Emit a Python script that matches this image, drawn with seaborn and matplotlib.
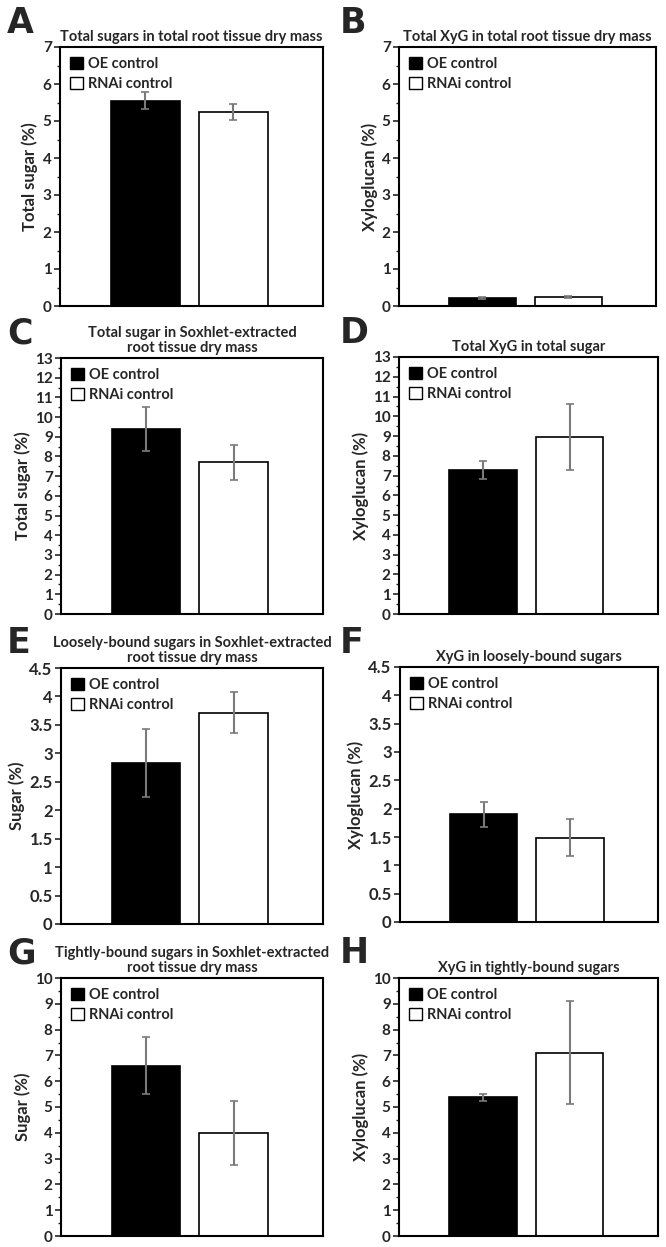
import numpy as np
import pandas as pd
import matplotlib
matplotlib.use("Agg")
import matplotlib.pyplot as plt
from matplotlib.patches import Patch
from matplotlib.ticker import MultipleLocator
import seaborn as sns

sns.set_style("ticks")
plt.rcParams['font.family'] = ['Lato', 'DejaVu Sans']

groups = ["OE control", "RNAi control"]

letters = ["A", "B", "C", "D", "E", "F", "G", "H"]
titles = [
    "Total sugars in total root tissue dry mass",
    "Total XyG in total root tissue dry mass",
    "Total sugar in Soxhlet-extracted\nroot tissue dry mass",
    "Total XyG in total sugar",
    "Loosely-bound sugars in Soxhlet-extracted\nroot tissue dry mass",
    "XyG in loosely-bound sugars",
    "Tightly-bound sugars in Soxhlet-extracted\nroot tissue dry mass",
    "XyG in tightly-bound sugars",
]
ylabels = ["Total sugar (%)", "Xyloglucan (%)", "Total sugar (%)", "Xyloglucan (%)",
           "Sugar (%)", "Xyloglucan (%)", "Sugar (%)", "Xyloglucan (%)"]

# mean values (OE control, RNAi control)
means_a = [5.55, 5.25]
means_b = [0.22, 0.25]
means_c = [9.4, 7.7]
means_d = [7.3, 8.95]
means_e = [2.83, 3.71]
means_f = [1.9, 1.49]
means_g = [6.6, 4.0]
means_h = [5.37, 7.1]

# error bar half-lengths
err_a = [0.23, 0.22]
err_b = [0.02, 0.03]
err_c = [1.1, 0.9]
err_d = [0.45, 1.68]
err_e = [0.6, 0.36]
err_f = [0.22, 0.33]
err_g = [1.11, 1.23]
err_h = [0.12, 2.0]

y_max = [7, 7, 13, 13, 4.5, 4.5, 10, 10]
y_step = [1, 1, 1, 1, 0.5, 0.5, 1, 1]

means = [means_a, means_b, means_c, means_d, means_e, means_f, means_g, means_h]
errs = [err_a, err_b, err_c, err_d, err_e, err_f, err_g, err_h]

# axes boxes in pixels: left, top, right, bottom
boxes = [(60, 47, 323, 306), (399, 47, 656, 306),
         (61, 358, 323, 614), (399, 357, 658, 614),
         (61, 668, 323, 924), (400, 667, 658, 922),
         (61, 978, 323, 1236), (399, 978, 658, 1236)]

W, H = 666, 1247
fig = plt.figure(figsize=(W / 100, H / 100), dpi=100)

for i in range(8):
    l, t, r, b = boxes[i]
    ax = fig.add_axes([l / W, 1 - b / H, (r - l) / W, (b - t) / H])
    df = pd.DataFrame({"group": groups, "value": means[i]})
    sns.barplot(data=df, x="group", y="value", hue="group", palette=["black", "white"],
                edgecolor="black", linewidth=1.2, width=0.78, errorbar=None,
                legend=False, ax=ax)
    ax.errorbar([0, 1], means[i], yerr=errs[i], fmt="none", ecolor="#7a7a7a",
                elinewidth=1.5, capsize=3, capthick=1.2, zorder=5)
    ax.set_xlim(-0.97, 2.02)
    ax.set_ylim(0, y_max[i])
    ax.yaxis.set_major_locator(MultipleLocator(y_step[i]))
    if y_step[i] == 1:
        ax.yaxis.set_minor_locator(MultipleLocator(0.5))
    ax.tick_params(axis="y", which="major", length=4, width=1.2,
                   labelsize=12 if y_step[i] < 1 else 11, pad=2)
    ax.tick_params(axis="y", which="minor", length=2.5, width=1)
    ax.tick_params(axis="x", length=0, labelbottom=False)
    ax.yaxis.set_major_formatter(matplotlib.ticker.FuncFormatter(lambda v, p: f"{v:g}"))
    for lab in ax.get_yticklabels():
        lab.set_fontweight("bold")
    for s in ax.spines.values():
        s.set_visible(True)
        s.set_linewidth(1.5)
        s.set_color("black")
    ax.set_xlabel("")
    ax.set_ylabel(ylabels[i], fontsize=12, fontweight="bold", labelpad=3)
    ax.set_title(titles[i], fontsize=10.5, fontweight="bold", pad=4, linespacing=1.1)
    handles = [Patch(facecolor="black", edgecolor="black"),
               Patch(facecolor="white", edgecolor="black")]
    ax.legend(handles, groups, loc="upper left", frameon=False,
              handlelength=0.9, handleheight=0.9, handletextpad=0.3,
              labelspacing=0.4, borderaxespad=0.3,
              prop={"weight": "bold", "size": 10.5})
    lx = [7, 340][i % 2]
    ly = [6, 316, 626, 936][i // 2]
    fig.text(lx / W, 1 - ly / H, letters[i], fontsize=25, fontweight="heavy",
             va="top", ha="left", family="DejaVu Sans")

fig.savefig("out.png", dpi=100)
